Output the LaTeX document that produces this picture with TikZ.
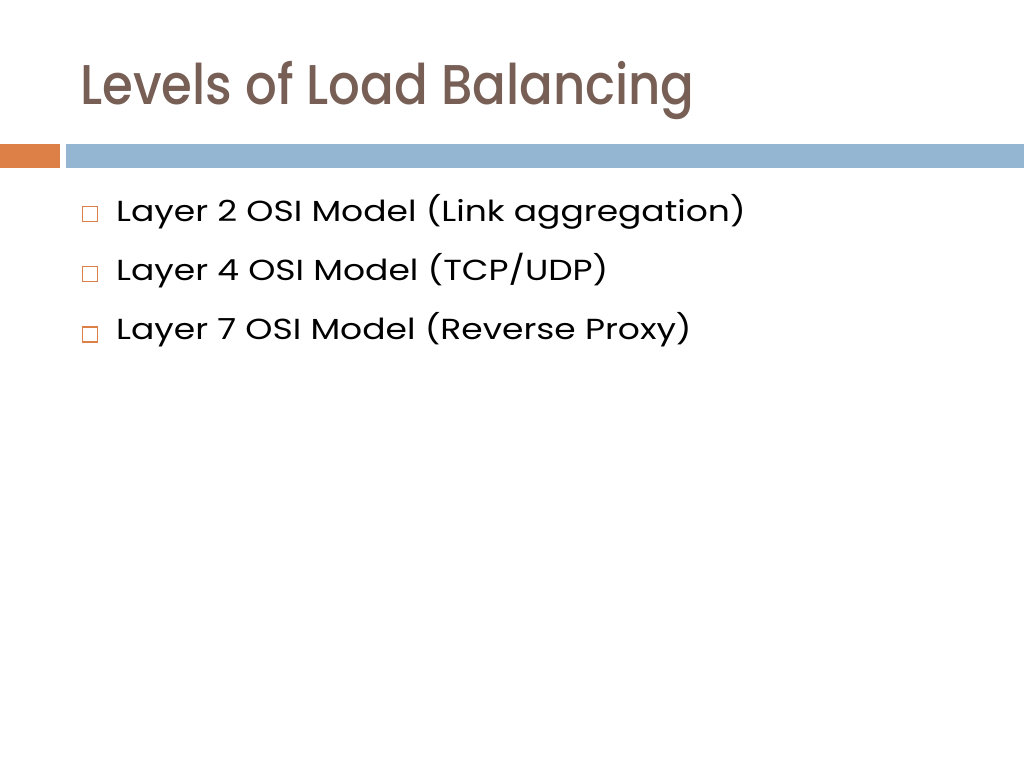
\documentclass[tikz,border=0pt]{standalone}
\usepackage{fontspec}
\setmainfont{Poppins}
\newfontfamily\titlefont{Poppins Medium}
\usetikzlibrary{positioning}
\definecolor{titlebrown}{HTML}{775F55}
\definecolor{accentorange}{HTML}{DD8047}
\definecolor{accentblue}{HTML}{94B6D2}
\tikzset{
    slidetitle/.style={
        anchor=base west, inner sep=0pt, xscale=0.89, text=titlebrown, font=\titlefont\fontsize{56}{60}\selectfont
    },
    bulletbox/.style={
        rectangle, draw=accentorange, line width=1.3pt, minimum size=15pt, inner sep=0pt
    },
    itemtext/.style={
        anchor=base west, inner sep=0pt, xscale=1.19, text=black, font=\fontsize{29}{34}\selectfont
    }
}

\begin{document}
\begin{tikzpicture}[x=1pt, y=-1pt]

    % Slide area
    \useasboundingbox[fill=white] (0,0) rectangle (1024,768);

    % Title
    \node[slidetitle] (title) at (80,104) {Levels of Load Balancing};

    % Divider bars
    \fill[accentorange] (0,144) rectangle (60,168);
    \fill[accentblue] (66,144) rectangle (1024,168);

    % Bullet items
    \node[itemtext] (layerA) at (116,221) {Layer 2 OSI Model (Link aggregation)};
    \node[itemtext, below=59pt of layerA.base west, anchor=base west] (layerB) {Layer 4 OSI Model (TCP/UDP)};
    \node[itemtext, below=59pt of layerB.base west, anchor=base west] (layerC) {Layer 7 OSI Model (Reverse Proxy)};

    % Bullet squares
    \node[bulletbox] (boxA) at (90,214) {};
    \node[bulletbox, below=44pt of boxA] (boxB) {};
    \node[bulletbox, below=44pt of boxB] (boxC) {};

\end{tikzpicture}
\end{document}
